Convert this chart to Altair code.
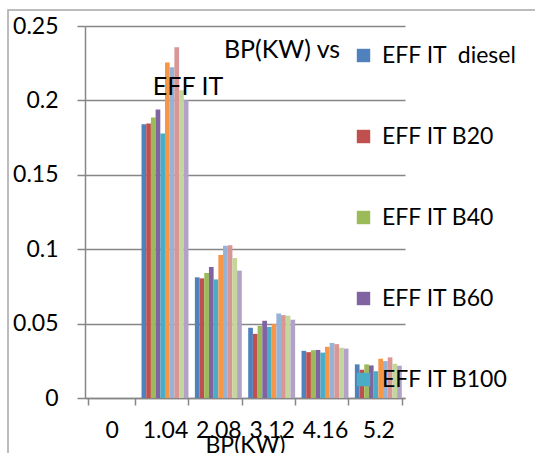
import altair as alt
import pandas as pd

# ---- data ----
categories = ["0", "1.04", "2.08", "3.12", "4.16", "5.2"]
bar_categories = ["1.04", "2.08", "3.12", "4.16", "5.2"]
series = ["EFF IT\u00a0 diesel", "EFF IT B20", "EFF IT B40", "EFF IT B60", "EFF IT B100",
          "Series6", "Series7", "Series8", "Series9", "Series10"]
legend_series = series[:5]
colors = ["#4F81BD", "#C0504D", "#9BBB59", "#8064A2", "#4BACC6",
          "#F79646", "#95B3D7", "#D99694", "#C3D69B", "#B2A2C7"]

v_diesel = [0.1840, 0.0811, 0.0472, 0.0317, 0.0226]
v_b20 = [0.1844, 0.0804, 0.0431, 0.0308, 0.0190]
v_b40 = [0.1885, 0.0840, 0.0485, 0.0321, 0.0226]
v_b60 = [0.1939, 0.0880, 0.0519, 0.0323, 0.0219]
v_b100 = [0.1777, 0.0797, 0.0478, 0.0305, 0.0180]
v_s6 = [0.2255, 0.0961, 0.0497, 0.0344, 0.0264]
v_s7 = [0.2222, 0.1024, 0.0568, 0.0370, 0.0248]
v_s8 = [0.2358, 0.1026, 0.0557, 0.0362, 0.0273]
v_s9 = [0.2069, 0.0941, 0.0553, 0.0337, 0.0230]
v_s10 = [0.2001, 0.0856, 0.0526, 0.0332, 0.0217]

y_ticks = [0, 0.05, 0.1, 0.15, 0.2, 0.25]
title_line1 = "BP(KW) vs"
title_line2 = "EFF IT"
x_title = "BP(KW)"

all_values = [v_diesel, v_b20, v_b40, v_b60, v_b100, v_s6, v_s7, v_s8, v_s9, v_s10]
rows = []
for s, vals in zip(series, all_values):
    for c, v in zip(bar_categories, vals):
        rows.append({"BP": c, "series": s, "eff": v})
df = pd.DataFrame(rows)

FONT = "Lato"

bars = alt.Chart(df).mark_bar().encode(
    x=alt.X("BP:N",
            scale=alt.Scale(domain=categories, paddingInner=0.12, paddingOuter=0.06),
            axis=alt.Axis(title=x_title, labelAngle=0, tickBand="extent",
                          tickSize=7, tickColor="#868686", domainColor="#868686",
                          domainWidth=1.5, tickWidth=1.5,
                          labelFontSize=23, labelColor="black", labelPadding=14,
                          titleFontSize=23, titleFontWeight="normal", titleColor="black",
                          titleBaseline="top", titleY=36, grid=False)),
    xOffset=alt.XOffset("series:N", scale=alt.Scale(domain=series, paddingInner=0)),
    y=alt.Y("eff:Q",
            scale=alt.Scale(domain=[0, 0.25]),
            axis=alt.Axis(title=None, values=y_ticks, format="~g",
                          tickSize=8, tickColor="#868686", domainColor="#868686",
                          domainWidth=1.5, tickWidth=1.5,
                          gridColor="#868686", gridWidth=1.5,
                          labelFontSize=23, labelColor="black", labelPadding=19)),
    color=alt.Color("series:N",
                    scale=alt.Scale(domain=series, range=colors),
                    legend=alt.Legend(values=legend_series, title=None, orient="none",
                                      legendX=267, legendY=18, symbolType="square",
                                      symbolSize=180, symbolStrokeWidth=0,
                                      labelFontSize=23, labelColor="black",
                                      labelOffset=7, labelLimit=300, rowPadding=57)),
)

t1 = alt.Chart(pd.DataFrame({"t": [title_line1]})).mark_text(
    fontSize=25, color="black", align="center", baseline="middle"
).encode(text="t:N", x=alt.value(197), y=alt.value(24))

t2 = alt.Chart(pd.DataFrame({"t": [title_line2]})).mark_text(
    fontSize=25, color="black", align="center", baseline="middle"
).encode(text="t:N", x=alt.value(103), y=alt.value(61))

border = alt.Chart(pd.DataFrame({"a": [0]})).mark_rect(
    fillOpacity=0, stroke="#A6A6A6", strokeWidth=1.5
).encode(x=alt.value(-77), y=alt.value(-16), x2=alt.value(700), y2=alt.value(700))

chart = alt.layer(border, bars, t1, t2).properties(
    width=320, height=372,
    autosize=alt.AutoSizeParams(type="none"),
    padding={"left": 85, "top": 26, "right": 130, "bottom": 55},
    background="white",
).configure(font=FONT).configure_view(stroke=None)

chart.save("out.html", embed_options={"renderer": "svg", "actions": False})
